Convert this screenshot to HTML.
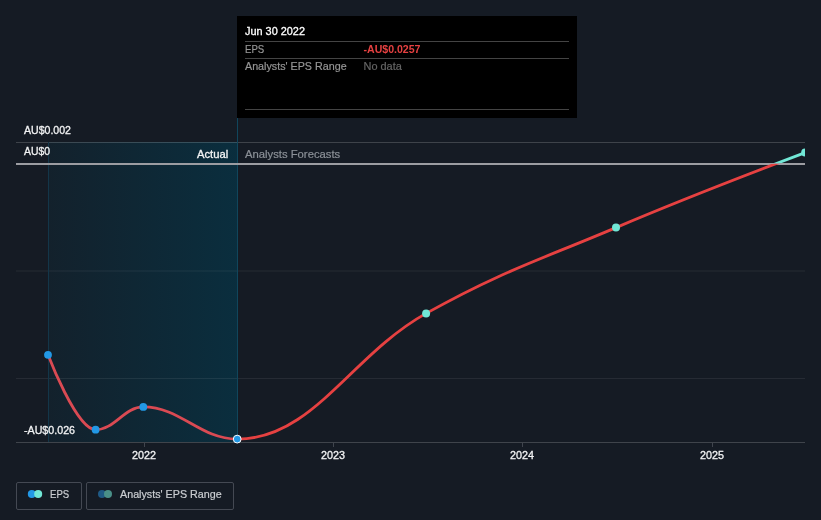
<!DOCTYPE html>
<html><head><meta charset="utf-8">
<style>
html,body{margin:0;padding:0;background:#151b24;}
body{width:821px;height:520px;overflow:hidden;position:relative;font-family:"Liberation Sans",sans-serif;}
svg{position:absolute;left:0;top:0;display:block}
text{font-family:"Liberation Sans",sans-serif;font-size:11px;}
</style></head><body>
<svg width="821" height="520" viewBox="0 0 821 520">
<defs>
<linearGradient id="g" x1="0" x2="1" y1="0" y2="0">
<stop offset="0" stop-color="#13212c"/><stop offset="1" stop-color="#0a2e3e"/>
</linearGradient>
<clipPath id="cneg"><rect x="237.5" y="164" width="567.5" height="290"/></clipPath>
<clipPath id="cpast"><rect x="16" y="164" width="221.5" height="290"/></clipPath>
<clipPath id="cpos"><rect x="16" y="100" width="789" height="63"/></clipPath>
<clipPath id="cplot"><rect x="16" y="100" width="789" height="360"/></clipPath>
</defs>
<rect x="0" y="0" width="821" height="520" fill="#151b24"/>
<!-- shaded actual region -->
<rect x="48" y="142" width="190" height="300" fill="url(#g)"/>
<!-- grid lines -->
<rect x="16" y="270.5" width="789" height="1" fill="#ffffff" fill-opacity="0.075"/>
<g shape-rendering="crispEdges">
<rect x="16" y="142" width="789" height="1" fill="#ffffff" fill-opacity="0.175"/>
<rect x="16" y="378" width="789" height="1" fill="#ffffff" fill-opacity="0.075"/>
<rect x="16" y="442" width="789" height="1" fill="#ffffff" fill-opacity="0.18"/>
<rect x="48" y="142" width="1" height="300" fill="#133649"/>
<rect x="237" y="118" width="1" height="324" fill="#10465c"/>
<rect x="16" y="163" width="789" height="2" fill="#9c9da2"/>
<rect x="144" y="443" width="1" height="4" fill="#40454e"/>
<rect x="333" y="443" width="1" height="4" fill="#40454e"/>
<rect x="522" y="443" width="1" height="4" fill="#40454e"/>
<rect x="712" y="443" width="1" height="4" fill="#40454e"/>
</g>
<!-- series -->
<g fill="none" stroke-width="2.8" stroke-linecap="round" stroke-linejoin="round">
<path clip-path="url(#cpast)" stroke="#da4a53" d="M 48.00 354.80 C 48.00 354.80 76.56 429.70 95.60 429.70 C 114.68 429.70 124.22 406.90 143.30 406.90 C 180.86 406.90 199.64 439.10 237.20 439.10 C 312.76 439.10 350.54 355.59 426.10 313.40 C 502.06 270.99 540.04 259.82 616.00 227.60 C 691.68 195.50 805.20 152.60 805.20 152.60"/>
<path clip-path="url(#cneg)" stroke="#e64141" d="M 48.00 354.80 C 48.00 354.80 76.56 429.70 95.60 429.70 C 114.68 429.70 124.22 406.90 143.30 406.90 C 180.86 406.90 199.64 439.10 237.20 439.10 C 312.76 439.10 350.54 355.59 426.10 313.40 C 502.06 270.99 540.04 259.82 616.00 227.60 C 691.68 195.50 805.20 152.60 805.20 152.60"/>
<path clip-path="url(#cpos)" stroke="#71e7d6" d="M 48.00 354.80 C 48.00 354.80 76.56 429.70 95.60 429.70 C 114.68 429.70 124.22 406.90 143.30 406.90 C 180.86 406.90 199.64 439.10 237.20 439.10 C 312.76 439.10 350.54 355.59 426.10 313.40 C 502.06 270.99 540.04 259.82 616.00 227.60 C 691.68 195.50 805.20 152.60 805.20 152.60"/>
</g>
<g clip-path="url(#cplot)">
<circle cx="48.0" cy="354.8" r="3.9" fill="#2298e5"/>
<circle cx="95.6" cy="429.7" r="3.9" fill="#2298e5"/>
<circle cx="143.3" cy="406.9" r="3.9" fill="#2298e5"/>
<circle cx="237.2" cy="439.1" r="3.9" fill="#2298e5" stroke="#ffffff" stroke-width="1"/>
<circle cx="426.1" cy="313.4" r="4" fill="#71e7d6"/>
<circle cx="616.0" cy="227.6" r="4" fill="#71e7d6"/>
<circle cx="805.2" cy="152.6" r="4" fill="#71e7d6"/>
</g>
<!-- axis labels -->
<g fill="#f2f3f4" stroke="#f2f3f4" stroke-width="0.3">
<text x="24" y="134" textLength="47" lengthAdjust="spacingAndGlyphs">AU$0.002</text>
<text x="24" y="155" textLength="26" lengthAdjust="spacingAndGlyphs">AU$0</text>
<text x="24" y="434" textLength="51" lengthAdjust="spacingAndGlyphs">-AU$0.026</text>
<text x="132" y="459" textLength="24" lengthAdjust="spacingAndGlyphs">2022</text>
<text x="321.1" y="459" textLength="24" lengthAdjust="spacingAndGlyphs">2023</text>
<text x="510" y="459" textLength="24" lengthAdjust="spacingAndGlyphs">2024</text>
<text x="700" y="459" textLength="24" lengthAdjust="spacingAndGlyphs">2025</text>
<text x="197" y="158" textLength="31.2" lengthAdjust="spacingAndGlyphs">Actual</text>
</g>
<text x="245" y="158" fill="#8b9097" stroke="#8b9097" stroke-width="0.2" textLength="95.2" lengthAdjust="spacingAndGlyphs">Analysts Forecasts</text>
<!-- tooltip -->
<rect x="237" y="16" width="340" height="102" fill="#000000"/>
<g shape-rendering="crispEdges" fill="#444444">
<rect x="245" y="41" width="324" height="1"/>
<rect x="245" y="58" width="324" height="1"/>
<rect x="245" y="109" width="324" height="1"/>
</g>
<text x="245" y="35" fill="#ffffff" stroke="#ffffff" stroke-width="0.3" textLength="60" lengthAdjust="spacingAndGlyphs">Jun 30 2022</text>
<text x="245" y="53" fill="#959595" stroke="#959595" stroke-width="0.2" textLength="19.3" lengthAdjust="spacingAndGlyphs">EPS</text>
<text x="363.5" y="53" fill="#e64141" font-weight="bold" textLength="57" lengthAdjust="spacingAndGlyphs">-AU$0.0257</text>
<text x="245" y="70" fill="#959595" stroke="#959595" stroke-width="0.2" textLength="101.6" lengthAdjust="spacingAndGlyphs">Analysts' EPS Range</text>
<text x="363.5" y="70" fill="#656565" stroke="#656565" stroke-width="0.2" textLength="38.3" lengthAdjust="spacingAndGlyphs">No data</text>
<!-- legend -->
<g fill="none" stroke="#444953" stroke-width="1">
<rect x="16.5" y="482.5" width="65" height="27" rx="1.5"/>
<rect x="86.5" y="482.5" width="147" height="27" rx="1.5"/>
</g>
<circle cx="31.8" cy="494" r="4" fill="#2298e5"/>
<circle cx="38.2" cy="494" r="4" fill="#71e7d6"/>
<circle cx="102" cy="494" r="4" fill="#1f5a85"/>
<circle cx="108" cy="494" r="4" fill="#4a9088"/>
<text x="50" y="498" fill="#cbced2" stroke="#cbced2" stroke-width="0.2" textLength="19.2" lengthAdjust="spacingAndGlyphs">EPS</text>
<text x="120" y="498" fill="#cbced2" stroke="#cbced2" stroke-width="0.2" textLength="101.7" lengthAdjust="spacingAndGlyphs">Analysts' EPS Range</text>
</svg>
</body></html>
